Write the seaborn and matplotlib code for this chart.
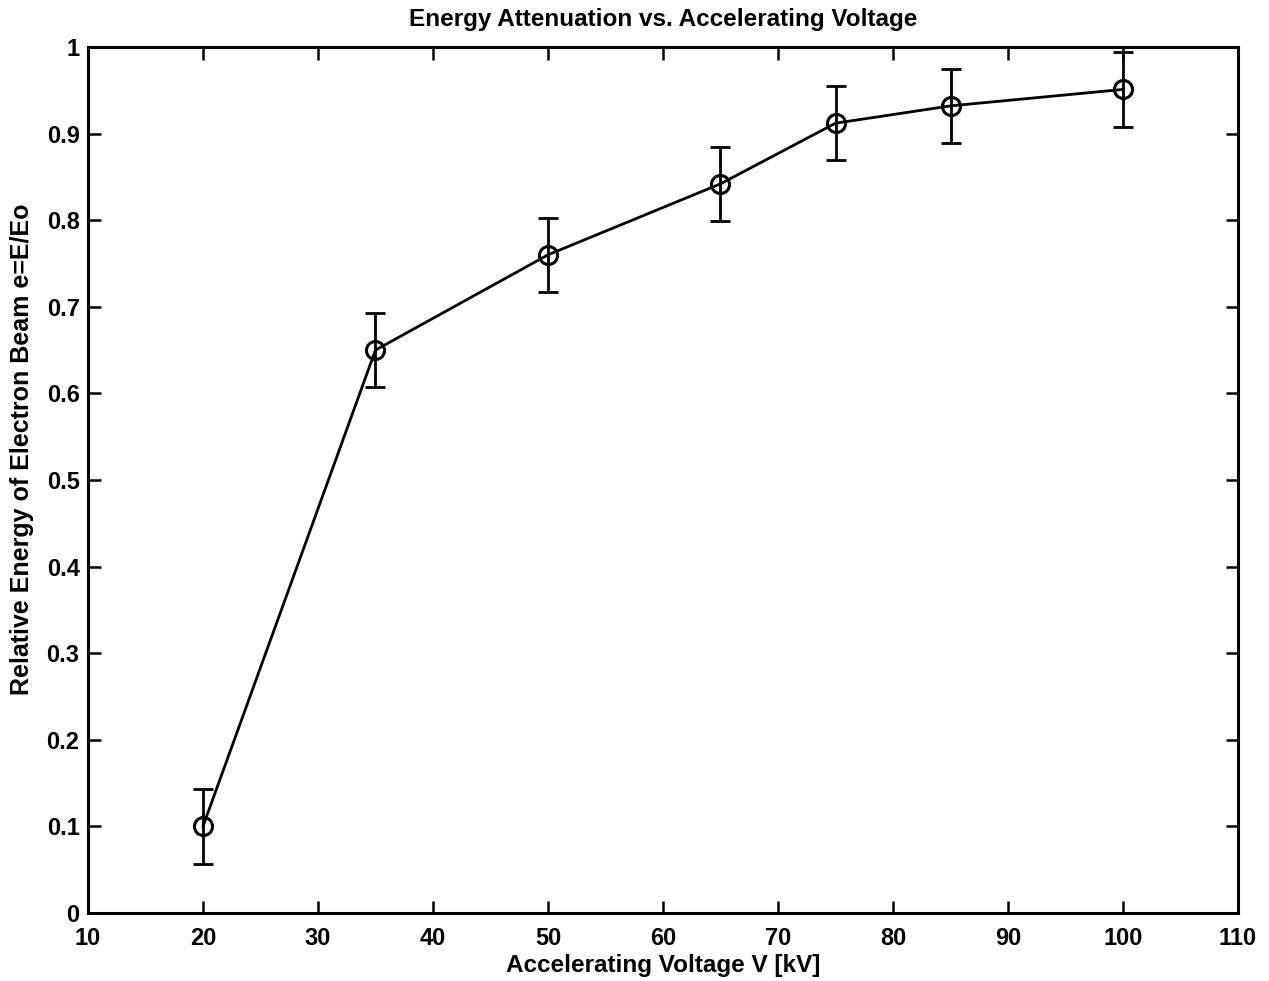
import matplotlib
matplotlib.use("Agg")
import matplotlib.pyplot as plt
import seaborn as sns
import pandas as pd

voltage = [20, 35, 50, 65, 75, 85, 100]
energy = [0.10, 0.65, 0.76, 0.842, 0.912, 0.932, 0.951]
error = [0.043, 0.043, 0.043, 0.043, 0.043, 0.043, 0.043]
xticks = [10, 20, 30, 40, 50, 60, 70, 80, 90, 100, 110]
yticks = [0, 0.1, 0.2, 0.3, 0.4, 0.5, 0.6, 0.7, 0.8, 0.9, 1]
ytick_labels = ["0", "0.1", "0.2", "0.3", "0.4", "0.5", "0.6", "0.7", "0.8", "0.9", "1"]

sns.set_style("white")
plt.rcParams['font.family'] = ['Liberation Sans', 'DejaVu Sans']
plt.rcParams['text.color'] = 'black'
plt.rcParams['axes.labelcolor'] = 'black'
plt.rcParams['xtick.color'] = 'black'
plt.rcParams['ytick.color'] = 'black'

df = pd.DataFrame({"V": voltage, "e": energy, "err": error})

fig = plt.figure(figsize=(12.69, 9.81), dpi=100)
ax = fig.add_axes([0.0693, 0.0693, 0.9063, 0.8828])

ax.errorbar(df["V"], df["e"], yerr=df["err"], fmt="none", ecolor="black",
            elinewidth=2, capsize=7, capthick=2, zorder=2)
sns.lineplot(data=df, x="V", y="e", ax=ax, color="black", linewidth=2,
             marker="o", markersize=13, markerfacecolor="none",
             markeredgecolor="black", markeredgewidth=2.2, zorder=3)

ax.set_xlim(10, 110)
ax.set_ylim(0, 1)
ax.set_xticks(xticks)
ax.set_yticks(yticks)
ax.set_yticklabels(ytick_labels)
ax.tick_params(direction="in", length=9, width=1.8, top=True, right=True,
               bottom=True, left=True, labelsize=17, colors="black")
ax.tick_params(axis="x", pad=10)
ax.tick_params(axis="y", pad=6)
for lab in ax.get_xticklabels() + ax.get_yticklabels():
    lab.set_fontweight("bold")
for s in ax.spines.values():
    s.set_color("black")
    s.set_linewidth(2.2)

ax.set_xlabel("Accelerating Voltage V [kV]", fontsize=17.5, fontweight="bold", labelpad=3)
ax.set_ylabel("Relative Energy of Electron Beam e=E/Eo", fontsize=18, fontweight="bold")
ax.yaxis.set_label_coords(-0.047, 0.535)
ax.set_title("Energy Attenuation vs. Accelerating Voltage", fontsize=17.5, fontweight="bold", pad=15)

fig.savefig("out.png", dpi=100)
